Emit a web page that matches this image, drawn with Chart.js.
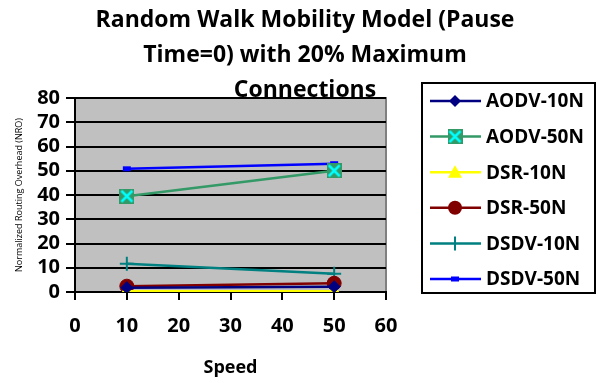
<!DOCTYPE html>
<html>
<head>
<meta charset="utf-8">
<script src="https://cdn.jsdelivr.net/npm/chart.js@4"></script>
<style>
    html, body { margin: 0; padding: 0; background: #fff; }
    #nro-chart { display: block; }
</style>
</head>
<body>
<canvas id="nro-chart" width="598" height="383"></canvas>
<script>
const speeds = [10, 50];
const aodv_10n = [1.8, 2.2];
const aodv_50n = [39.5, 50];
const dsr_10n = [0.3, 0.3];
const dsr_50n = [2.4, 3.6];
const dsdv_10n = [11.6, 7.5];
const dsdv_50n = [50.8, 52.9];
const x_ticks = [0, 10, 20, 30, 40, 50, 60];
const title_lines = ['Random Walk Mobility Model (Pause', 'Time=0) with 20% Maximum', 'Connections'];

const FONT = '"Open Sans", Lato, sans-serif';

// square marker with cyan cross, like the Excel one
function make_xsquare() {
    const c = document.createElement('canvas');
    c.width = 15; c.height = 15;
    const g = c.getContext('2d');
    g.fillStyle = '#339966';
    g.fillRect(0, 0, 15, 15);
    g.strokeStyle = '#00ffff';
    g.lineWidth = 2.5;
    g.beginPath();
    g.moveTo(2, 2); g.lineTo(13, 13);
    g.moveTo(13, 2); g.lineTo(2, 13);
    g.stroke();
    return c;
}
const xsquare = make_xsquare();

function to_points(values) {
    return speeds.map((s, i) => ({ x: s, y: values[i] }));
}

const chart_datasets = [
    { label: 'AODV-10N', data: to_points(aodv_10n), borderColor: '#000080', backgroundColor: '#000080',
      pointStyle: 'rectRot', pointRadius: 6, pointBorderWidth: 1 },
    { label: 'AODV-50N', data: to_points(aodv_50n), borderColor: '#339966', backgroundColor: '#339966',
      pointStyle: xsquare, pointRadius: 7 },
    { label: 'DSR-10N', data: to_points(dsr_10n), borderColor: '#ffff00', backgroundColor: '#ffff00',
      pointStyle: 'triangle', pointRadius: 7, pointBorderWidth: 1 },
    { label: 'DSR-50N', data: to_points(dsr_50n), borderColor: '#800000', backgroundColor: '#800000',
      pointStyle: 'circle', pointRadius: 7, pointBorderWidth: 1 },
    { label: 'DSDV-10N', data: to_points(dsdv_10n), borderColor: '#008080', backgroundColor: '#008080',
      pointStyle: 'cross', pointRadius: 7, pointBorderWidth: 2 },
    { label: 'DSDV-50N', data: to_points(dsdv_50n), borderColor: '#0000ff', backgroundColor: '#0000ff',
      pointStyle: 'line', pointRadius: 4, pointBorderWidth: 5 }
];
chart_datasets.forEach(ds => {
    ds.borderWidth = 2.5;
    ds.tension = 0;
    ds.fill = false;
});

function draw_marker(ctx, ds, x, y) {
    const r = ds.pointRadius;
    ctx.save();
    ctx.fillStyle = ds.backgroundColor;
    ctx.strokeStyle = ds.borderColor;
    ctx.lineWidth = ds.pointBorderWidth || 1;
    ctx.beginPath();
    if (ds.pointStyle === 'rectRot') {
        ctx.moveTo(x, y - r); ctx.lineTo(x + r, y); ctx.lineTo(x, y + r); ctx.lineTo(x - r, y); ctx.closePath();
        ctx.fill();
    } else if (ds.pointStyle === 'triangle') {
        ctx.moveTo(x, y - r); ctx.lineTo(x + r, y + r * 0.8); ctx.lineTo(x - r, y + r * 0.8); ctx.closePath();
        ctx.fill();
    } else if (ds.pointStyle === 'circle') {
        ctx.arc(x, y, r, 0, Math.PI * 2);
        ctx.fill();
    } else if (ds.pointStyle === 'cross') {
        ctx.moveTo(x, y - r); ctx.lineTo(x, y + r);
        ctx.stroke();
    } else if (ds.pointStyle === 'line') {
        ctx.fillRect(x - 4, y - 2.5, 8, 5);
    } else {
        ctx.drawImage(ds.pointStyle, x - 7.5, y - 7.5);
    }
    ctx.restore();
}

const decor_plugin = {
    id: 'decor',
    beforeDraw(chart) {
        const { ctx, chartArea: a } = chart;
        ctx.save();
        ctx.fillStyle = '#c0c0c0';
        ctx.fillRect(a.left, a.top, a.right - a.left, a.bottom - a.top);
        ctx.strokeStyle = '#808080';
        ctx.lineWidth = 2;
        ctx.strokeRect(a.left, a.top, a.right - a.left, a.bottom - a.top);
        ctx.restore();
    },
    afterDraw(chart) {
        const ctx = chart.ctx;
        ctx.save();
        // title
        ctx.fillStyle = '#000';
        ctx.font = 'bold 23px ' + FONT;
        ctx.textAlign = 'center';
        ctx.textBaseline = 'middle';
        title_lines.forEach((line, i) => ctx.fillText(line, 305, 20 + i * 35));

        // legend
        const lx = 422, ly = 83, lw = 173, lh = 210;
        ctx.strokeStyle = '#000';
        ctx.lineWidth = 2;
        ctx.strokeRect(lx, ly, lw, lh);
        ctx.font = 'bold 19px ' + FONT;
        ctx.textAlign = 'left';
        chart_datasets.forEach((ds, i) => {
            const y = 101 + i * 35.6;
            ctx.strokeStyle = ds.borderColor;
            ctx.lineWidth = 2.5;
            ctx.beginPath();
            ctx.moveTo(430, y); ctx.lineTo(481, y);
            ctx.stroke();
            draw_marker(ctx, ds, 455, y);
            ctx.fillStyle = '#000';
            ctx.fillText(ds.label, 486, y + 1);
        });
        ctx.restore();
    }
};

const canvas = document.getElementById('nro-chart');
const chart = new Chart(canvas, {
    type: 'line',
    data: { datasets: chart_datasets },
    options: {
        responsive: false,
        animation: false,
        layout: { padding: { top: 98, right: 212, bottom: 4, left: 0 } },
        plugins: {
            legend: { display: false },
            tooltip: { enabled: false }
        },
        scales: {
            x: {
                type: 'linear',
                min: 0, max: 60,
                afterBuildTicks: (axis) => { axis.ticks = x_ticks.map(v => ({ value: v })); },
                border: { color: '#000', width: 2 },
                grid: { drawOnChartArea: false, drawTicks: true, tickLength: 8, color: '#000', lineWidth: 2 },
                ticks: { color: '#000', font: { family: FONT, size: 20, weight: 'bold' }, padding: 14, maxRotation: 0, autoSkip: false },
                title: { display: true, text: 'Speed', color: '#000', font: { family: FONT, size: 18, weight: 'bold' }, padding: { top: 11, bottom: 0 } },
                afterFit: (axis) => { axis.height = 87; }
            },
            y: {
                min: 0, max: 80,
                border: { color: '#000', width: 2 },
                grid: { color: '#000', lineWidth: 2, tickLength: 9 },
                ticks: { stepSize: 10, color: '#000', font: { family: FONT, size: 20, weight: 'bold' }, padding: 6, autoSkip: false },
                title: { display: true, text: 'Normalized Routing Overhead (NRO)', color: '#000', font: { family: FONT, size: 9 }, padding: { top: 14, bottom: 0 } },
                afterFit: (axis) => { axis.width = 75; }
            }
        }
    },
    plugins: [decor_plugin]
});
</script>
</body>
</html>
